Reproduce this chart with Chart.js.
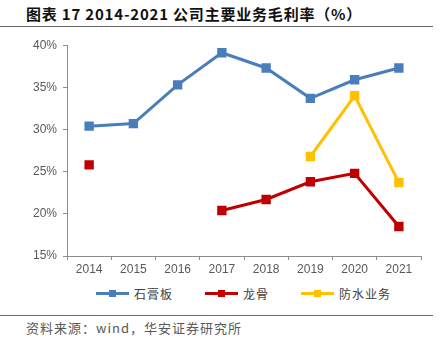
<!DOCTYPE html>
<html lang="zh-CN">
<head>
<meta charset="UTF-8">
<title>2014-2021 公司主要业务毛利率</title>
<script src="https://cdn.jsdelivr.net/npm/chart.js"></script>
<style>
    body{
        margin:0;
        width:442px;
        height:350px;
        background:#fff;
        position:relative;
        overflow:hidden;
        font-family:"Noto Sans CJK SC","DejaVu Sans",sans-serif;
    }
    .title{
        position:absolute; left:26px; top:3px;
        font-size:15px; font-weight:700; color:#111;
        letter-spacing:0.8px;
        white-space:nowrap;
    }
    .rule{position:absolute; left:0; width:433px; height:1px; background:#6b6b6b;}
    .chart-box{position:absolute; left:0; top:32px; width:442px; height:244px;}
    .legend{position:absolute; top:285px; left:0; width:442px; height:18px; font-size:12px; color:#404040; letter-spacing:1px;}
    .legend-item{position:absolute; display:flex; align-items:center;}
    .legend-line{position:relative; width:33px; height:3px; margin-right:5px;}
    .legend-line i{position:absolute; left:13px; top:-2px; width:7px; height:7px;}
    .source{position:absolute; left:26px; top:318px; font-size:13px; color:#595959; letter-spacing:1px; white-space:nowrap;}
</style>
</head>
<body>
<div class="title">图表 17 2014-2021 公司主要业务毛利率（%）</div>
<div class="rule" style="top:26px"></div>
<div class="chart-box"><canvas id="c"></canvas></div>
<div class="legend" id="legend"></div>
<div class="rule" style="top:315px"></div>
<div class="source">资料来源：wind，华安证券研究所</div>

<script>
const years=['2014','2015','2016','2017','2018','2019','2020','2021'];
const gypsum=[30.4,30.7,35.3,39.1,37.3,33.7,35.9,37.3];     // 石膏板
const keel=[25.8,null,null,20.4,21.7,23.8,24.8,18.5];       // 龙骨
const waterproof=[null,null,null,null,null,26.8,34.0,23.7]; // 防水业务
const names=['石膏板','龙骨','防水业务'];
const colors=['#4a7ebb','#c00000','#ffc000'];
const legendX=[96,205,301];

const series=[gypsum,keel,waterproof];

new Chart(document.getElementById('c'),{
    type:'line',
    data:{
        labels:years,
        datasets:series.map((d,i)=>({
            label:names[i],
            data:d,
            borderColor:colors[i],
            backgroundColor:colors[i],
            borderWidth:3,
            pointStyle:'rect',
            pointRadius:4.5,
            pointHoverRadius:4.5,
            spanGaps:false,
            tension:0
        }))
    },
    options:{
        responsive:true,
        maintainAspectRatio:false,
        animation:false,
        layout:{padding:{top:10,right:21,left:0,bottom:0}},
        plugins:{legend:{display:false},tooltip:{enabled:false}},
        scales:{
            x:{
                offset:true,
                grid:{display:true,drawOnChartArea:false,offset:true,color:'#8c8c8c',tickLength:4},
                border:{color:'#8c8c8c'},
                ticks:{color:'#595959',font:{size:12,family:'Liberation Sans'},padding:2,maxRotation:0},
                afterFit:s=>{s.height=20;}
            },
            y:{
                min:15,max:40,
                grid:{display:true,drawOnChartArea:false,color:'#8c8c8c',tickLength:4},
                border:{color:'#8c8c8c'},
                ticks:{stepSize:5,color:'#595959',font:{size:12,family:'Liberation Sans'},padding:6,callback:v=>v+'%'},
                afterFit:s=>{s.width=67;}
            }
        }
    }
});

const lg=document.getElementById('legend');
names.forEach((n,i)=>{
    const it=document.createElement('div');
    it.className='legend-item';
    it.style.left=legendX[i]+'px';
    it.innerHTML='<span class="legend-line" style="background:'+colors[i]+'"><i style="background:'+colors[i]+'"></i></span><span>'+n+'</span>';
    lg.appendChild(it);
});
</script>
</body>
</html>
